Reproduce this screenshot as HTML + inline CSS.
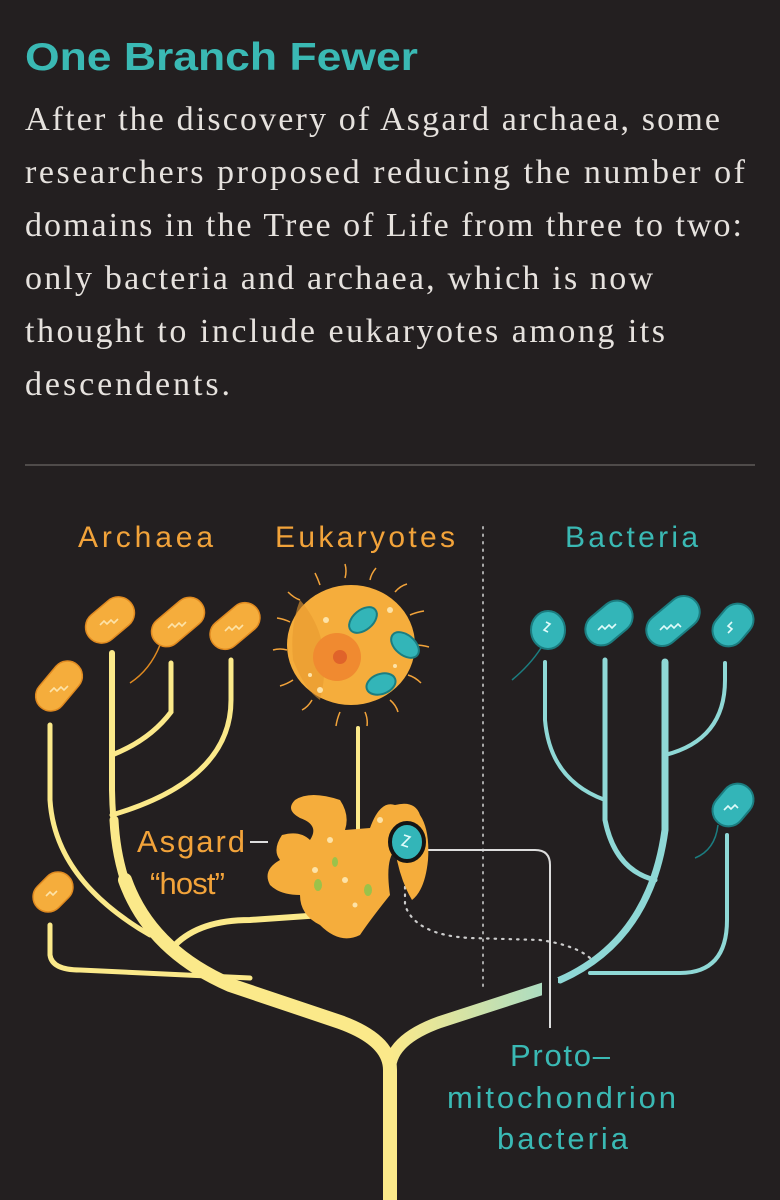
<!DOCTYPE html>
<html><head><meta charset="utf-8"><style>
html,body{margin:0;padding:0;background:#231f20;}
body{width:780px;height:1200px;overflow:hidden;position:relative;}
</style></head><body>
<svg width="780" height="1200" viewBox="0 0 780 1200" xmlns="http://www.w3.org/2000/svg" style="position:absolute;left:0;top:0">
<defs>
<linearGradient id="g1" x1="390" y1="0" x2="600" y2="0" gradientUnits="userSpaceOnUse">
<stop offset="0" stop-color="#fbe98a"/><stop offset="1" stop-color="#8fd8d6"/></linearGradient>
</defs>
<rect width="780" height="1200" fill="#231f20"/>
<text x="25" y="70" font-family="Liberation Sans, sans-serif" font-weight="bold" font-size="39" fill="#3ab9b4" textLength="393" lengthAdjust="spacingAndGlyphs">One Branch Fewer</text>
<g font-family="Liberation Serif, serif" font-size="34" fill="#e6e2de" lengthAdjust="spacingAndGlyphs">
<text x="25" y="130" textLength="695">After the discovery of Asgard archaea, some</text>
<text x="25" y="183" textLength="720">researchers proposed reducing the number of</text>
<text x="25" y="236" textLength="717">domains in the Tree of Life from three to two:</text>
<text x="25" y="289" textLength="628">only bacteria and archaea, which is now</text>
<text x="25" y="342" textLength="640">thought to include eukaryotes among its</text>
<text x="25" y="395" textLength="205">descendents.</text>
</g>
<line x1="25" y1="465" x2="755" y2="465" stroke="#6a6664" stroke-width="1.2"/>
<g font-family="Liberation Sans, sans-serif" font-size="30" lengthAdjust="spacingAndGlyphs">
<text x="78" y="547" fill="#f2a33a" textLength="135">Archaea</text>
<text x="275" y="547" fill="#f2a33a" textLength="180">Eukaryotes</text>
<text x="565" y="547" fill="#3ab9b4" textLength="133">Bacteria</text>
</g>
<line x1="483" y1="527" x2="483" y2="990" stroke="#aaa" stroke-width="2" stroke-dasharray="1.5 6" stroke-linecap="round"/>
<!-- yellow tree -->
<g fill="none" stroke="#fbe98a" stroke-linecap="round">
<path d="M390 1200 L390 1070 Q390 1040 340 1022 L230 985 Q150 950 125 880" stroke-width="14"/>
<path d="M128 890 Q113 850 112 790 L112 653" stroke-width="6"/>
<path d="M130 895 Q116 860 114 820" stroke-width="9"/>
<path d="M50 725 L50 800 Q55 880 150 935" stroke-width="5"/>
<path d="M112 755 Q150 740 171 712 L171 663" stroke-width="5"/>
<path d="M112 815 Q231 780 231 700 L231 660" stroke-width="5"/>
<path d="M50 925 L50 955 Q52 970 80 970 L250 978" stroke-width="5"/>
<path d="M175 945 Q200 920 250 920 L322 915" stroke-width="6"/>
<line x1="358" y1="728" x2="358" y2="830" stroke-width="4"/>
</g>
<!-- right teal tree -->
<g fill="none" stroke="#8fd8d6" stroke-linecap="round">
<path d="M390 1070 Q390 1040 440 1022 L545 988" stroke="url(#g1)" stroke-width="12"/>
<path d="M560 980 Q650 940 665 830 L665 662" stroke-width="7"/>
<path d="M545 662 L545 720 Q550 780 605 800" stroke-width="4"/>
<path d="M605 660 L605 820 Q615 870 655 880" stroke-width="5"/>
<path d="M665 755 Q725 740 725 680 L725 663" stroke-width="4"/>
<path d="M727 835 L727 920 Q727 973 680 973 L590 973" stroke-width="4"/>
</g>
<rect x="542" y="978" width="16" height="20" fill="#231f20"/>
<!-- connectors -->
<path d="M420 850 L535 850 Q550 850 550 865 L550 1028" fill="none" stroke="#ddd" stroke-width="2"/>
<path d="M250 842 L268 842" stroke="#ddd" stroke-width="2"/>
<path d="M405 872 L405 905 Q415 935 470 938 L540 940 Q575 945 590 958" fill="none" stroke="#ccc" stroke-width="2.2" stroke-dasharray="1.5 6" stroke-linecap="round"/>
<!-- eukaryote cell -->
<g stroke="#f2a33a" stroke-width="1.5" fill="none">
<path d="M300 600 q-6 -2 -12 -8 M320 585 q-2 -6 -5 -12 M345 578 q2 -7 0 -14 M370 580 q1 -6 6 -12 M395 592 q5 -6 12 -8 M410 615 q7 -3 14 -4 M415 645 q7 0 14 2 M408 675 q7 2 13 8 M390 700 q6 5 8 12 M365 712 q3 7 2 14 M340 712 q-3 7 -4 14 M312 700 q-4 7 -10 10 M293 680 q-6 4 -13 6 M287 650 q-7 -2 -14 0 M290 622 q-6 -3 -13 -4"/>
</g>
<ellipse cx="351" cy="645" rx="64" ry="60" fill="#f5ad3c"/>
<path d="M300 600 Q335 640 320 700 Q305 690 293 660 Q290 625 300 600Z" fill="#e89a2e" opacity=".6"/>
<circle cx="337" cy="657" r="24" fill="#f08a30"/>
<circle cx="340" cy="657" r="7" fill="#e0632a"/>
<ellipse cx="363" cy="620" rx="16" ry="10" transform="rotate(-40 363 620)" fill="#33b5b8" stroke="#1b7d80" stroke-width="2"/>
<ellipse cx="405" cy="645" rx="16" ry="10" transform="rotate(40 405 645)" fill="#33b5b8" stroke="#1b7d80" stroke-width="2"/>
<ellipse cx="381" cy="684" rx="15" ry="10" transform="rotate(-20 381 684)" fill="#33b5b8" stroke="#1b7d80" stroke-width="2"/>
<g fill="#fde3a8"><circle cx="326" cy="620" r="3"/><circle cx="320" cy="690" r="3"/><circle cx="395" cy="666" r="2"/><circle cx="390" cy="610" r="3"/><circle cx="310" cy="675" r="2"/></g>
<!-- asgard blob -->
<path d="M295 800 Q310 790 340 800 Q350 815 345 830 L370 828 Q380 800 395 805 Q415 800 420 815 Q430 830 428 860 Q425 890 412 900 Q400 880 395 850 Q385 860 390 895 Q370 920 360 935 Q340 945 320 925 Q300 915 300 895 Q280 895 270 885 Q262 870 280 860 Q272 850 282 835 Q300 830 310 840 Q320 825 300 818 Q285 810 295 800Z" fill="#f5ad3c"/>
<g fill="#fde3a8"><circle cx="330" cy="840" r="3"/><circle cx="315" cy="870" r="3"/><circle cx="345" cy="880" r="3"/><circle cx="355" cy="905" r="2.5"/><circle cx="380" cy="820" r="3"/></g>
<g fill="#9bc24a"><ellipse cx="318" cy="885" rx="4" ry="6"/><ellipse cx="368" cy="890" rx="4" ry="6"/><ellipse cx="335" cy="862" rx="3" ry="5"/></g>
<ellipse cx="407" cy="842" rx="17" ry="19" fill="#33b5b8" stroke="#151515" stroke-width="4"/>
<path d="M404 835 l6 2 l-8 8 l6 2" stroke="#e0fbfa" stroke-width="1.6" fill="none"/>
<!-- archaea cells -->
<g fill="#f5ad3c" stroke="#e08a20" stroke-width="1.5">
<rect x="31" y="671" width="56" height="30" rx="15" transform="rotate(-50 59 686)"/>
<rect x="83" y="604" width="54" height="32" rx="16" transform="rotate(-40 110 620)"/>
<rect x="148" y="607" width="60" height="30" rx="15" transform="rotate(-40 178 622)"/>
<rect x="207" y="611" width="56" height="30" rx="15" transform="rotate(-40 235 626)"/>
<rect x="31" y="877" width="44" height="30" rx="15" transform="rotate(-45 53 892)"/>
</g>
<path d="M160 645 Q150 670 130 683" stroke="#e08a20" stroke-width="1.5" fill="none"/>
<g fill="none" stroke="#fde3a8" stroke-width="1.6">
<path d="M50 692 l4 -4 l3 3 l4 -4 l3 3 l4 -4"/><path d="M100 625 l4 -4 l3 3 l4 -4 l3 3 l4 -4"/><path d="M168 628 l4 -4 l3 3 l4 -4 l3 3 l4 -4"/><path d="M225 631 l4 -4 l3 3 l4 -4 l3 3 l4 -4"/><path d="M46 896 l4 -4 l3 3 l4 -4"/>
</g>
<!-- bacteria cells -->
<g fill="#33b5b8" stroke="#1b7d80" stroke-width="2">
<ellipse cx="548" cy="630" rx="17" ry="19"/>
<rect x="583" y="607" width="52" height="32" rx="16" transform="rotate(-40 609 623)"/>
<rect x="643" y="605" width="60" height="32" rx="16" transform="rotate(-40 673 621)"/>
<rect x="710" y="609" width="46" height="32" rx="16" transform="rotate(-50 733 625)"/>
<rect x="710" y="789" width="46" height="32" rx="16" transform="rotate(-50 733 805)"/>
</g>
<path d="M541 648 Q530 665 512 680 M718 825 Q715 850 695 858" stroke="#1b7d80" stroke-width="1.5" fill="none"/>
<g fill="none" stroke="#e0fbfa" stroke-width="1.6">
<path d="M546 622 l4 2 l-6 6 l4 2"/><path d="M598 630 l4 -4 l3 3 l4 -4 l3 3 l4 -4"/><path d="M660 630 l4 -4 l3 3 l4 -4 l3 3 l4 -4 l3 3"/><path d="M728 633 l4 -4 l-4 -3 l4 -4"/><path d="M724 810 l4 -4 l3 3 l4 -4 l3 3"/>
</g>
<g font-family="Liberation Sans, sans-serif" font-size="31" lengthAdjust="spacingAndGlyphs">
<text x="137" y="852" fill="#f2a33a" textLength="108">Asgard</text>
<text x="150" y="894" fill="#f2a33a" textLength="75">“host”</text>
<text x="510" y="1066" fill="#3ab9b4" textLength="100">Proto–</text>
<text x="447" y="1108" fill="#3ab9b4" textLength="229">mitochondrion</text>
<text x="497" y="1149" fill="#3ab9b4" textLength="131">bacteria</text>
</g>
</svg>
</body></html>
